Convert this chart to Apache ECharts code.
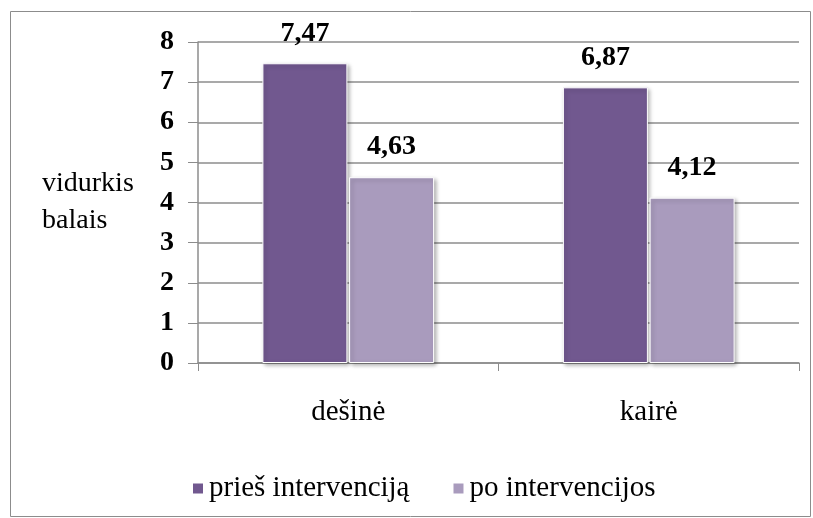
<!DOCTYPE html>
<html>
<head>
<meta charset="utf-8">
<script src="https://cdn.jsdelivr.net/npm/echarts@6/dist/echarts.min.js"></script>
<style>
  html, body { margin: 0; padding: 0; background: #fff; }
  #chart { width: 813px; height: 518px; }
</style>
</head>
<body>
<div id="chart"></div>
<script>
var categories = ['dešinė', 'kairė'];
var seriesNames = ['prieš intervenciją', 'po intervencijos'];
var before = [7.47, 6.87];
var after = [4.63, 4.12];
var yTicks = [0, 1, 2, 3, 4, 5, 6, 7, 8];

var font = 'Liberation Serif, Times New Roman, DejaVu Serif, serif';
var colors = ['#71588F', '#A99BBD'];

function fmt(p) {
  return p.value.toFixed(2).replace('.', ',');
}

function barSeries(name, data, color) {
  return {
    name: name,
    type: 'bar',
    data: data,
    barWidth: 85,
    barGap: '2%',
    barCategoryGap: '43%',
    itemStyle: {
      color: color,
      borderColor: '#ffffff',
      borderWidth: 1,
      shadowBlur: 4,
      shadowColor: 'rgba(0,0,0,0.3)',
      shadowOffsetX: 2,
      shadowOffsetY: 2
    },
    label: {
      show: true,
      position: 'top',
      distance: 16,
      formatter: fmt,
      color: '#000',
      fontFamily: font,
      fontWeight: 'bold',
      fontSize: 28
    }
  };
}

var myChart = echarts.init(document.getElementById('chart'));
myChart.setOption({
  animation: false,
  color: colors,
  textStyle: { fontFamily: font },
  graphic: [{
    type: 'rect',
    shape: { x: 10.5, y: 11.5, width: 800, height: 505 },
    style: { fill: null, stroke: '#8c8c8c', lineWidth: 1 },
    silent: true
  }],
  grid: { left: 198, right: 14, top: 42, bottom: 155 },
  legend: {
    left: 186,
    top: 469,
    itemWidth: 12,
    itemHeight: 12,
    itemGap: 42,
    icon: 'rect',
    textStyle: { fontFamily: font, fontWeight: 'normal', fontSize: 29, color: '#000' },
    data: seriesNames
  },
  xAxis: {
    type: 'category',
    data: categories,
    axisLine: { lineStyle: { color: '#8c8c8c', width: 1.5 } },
    axisTick: { show: true, length: 8, lineStyle: { color: '#8c8c8c' } },
    axisLabel: { color: '#000', fontFamily: font, fontWeight: 'normal', fontSize: 29, margin: 35 }
  },
  yAxis: {
    type: 'value',
    min: 0,
    max: 8,
    interval: 1,
    name: 'vidurkis\nbalais',
    nameLocation: 'middle',
    nameRotate: 0,
    nameGap: 156,
    nameTextStyle: { color: '#000', fontFamily: font, fontWeight: 'normal', fontSize: 28, lineHeight: 37, align: 'left', padding: [4, 0, 0, 0] },
    axisLine: { show: true, lineStyle: { color: '#8c8c8c', width: 1.5 } },
    axisTick: { show: true, length: 10, lineStyle: { color: '#8c8c8c' } },
    axisLabel: {
      color: '#000', fontFamily: font, fontWeight: 'bold', fontSize: 28, margin: 24,
      padding: [3, 0, 0, 0],
      formatter: function (v) { return yTicks.indexOf(v) >= 0 ? String(v) : ''; }
    },
    splitLine: { show: true, lineStyle: { color: '#8c8c8c', width: 1.5 } }
  },
  series: [
    barSeries(seriesNames[0], before, colors[0]),
    barSeries(seriesNames[1], after, colors[1])
  ]
});
</script>
</body>
</html>
